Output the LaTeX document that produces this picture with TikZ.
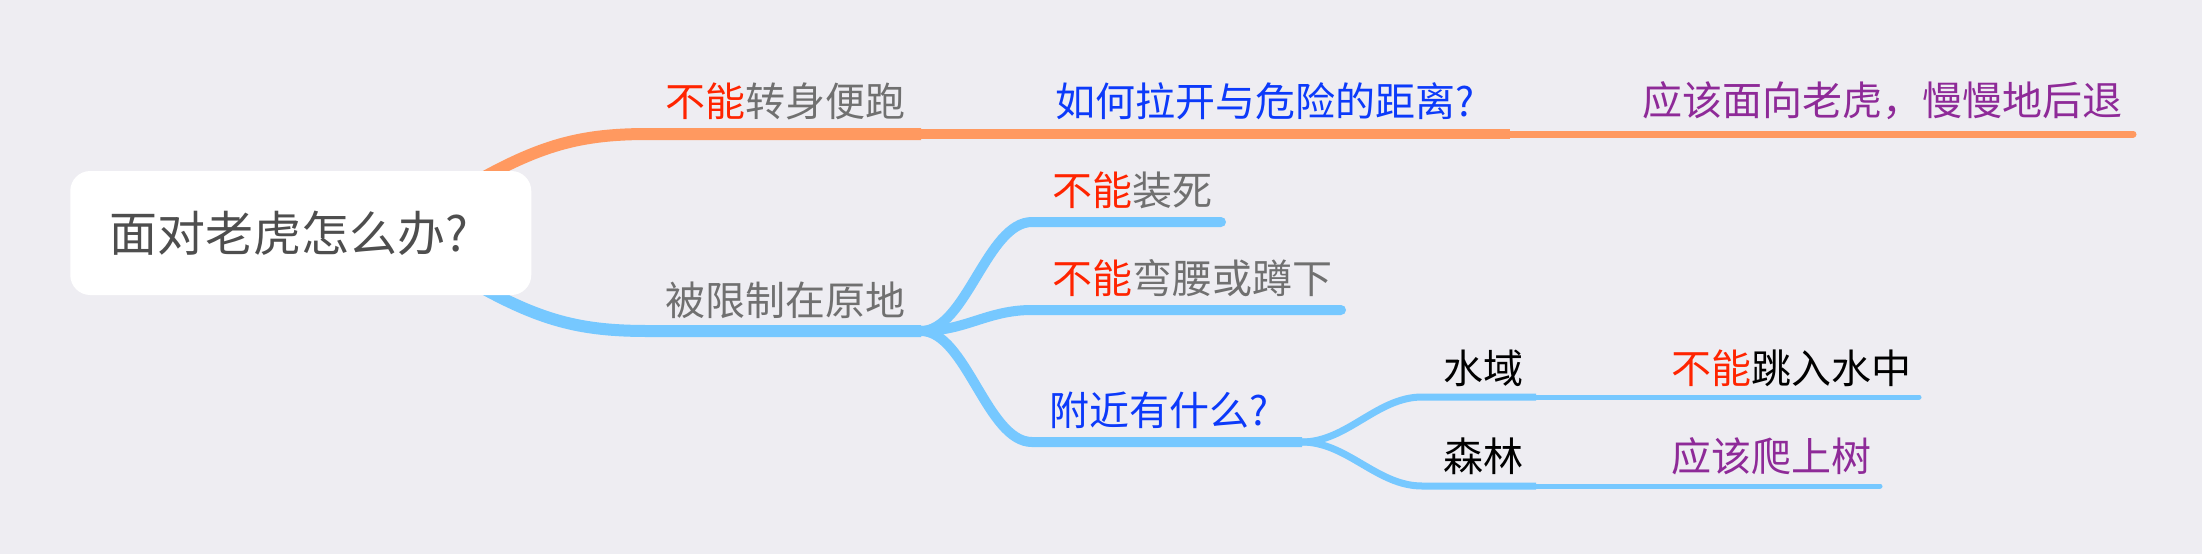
\documentclass[tikz,border=0pt]{standalone}
\usepackage{fontspec}
\setmainfont{Noto Sans CJK SC}
\usepackage{tikz}

\definecolor{bgcol}{RGB}{238,237,242}
\definecolor{orangeline}{RGB}{255,153,96}
\definecolor{blueline}{RGB}{118,200,255}
\definecolor{notred}{RGB}{255,36,0}
\definecolor{plaingray}{RGB}{112,112,112}
\definecolor{askblue}{RGB}{12,58,250}
\definecolor{dopurple}{RGB}{142,42,152}
\definecolor{rootgray}{RGB}{78,78,78}

\tikzset{
  lvlone/.style={line width=9pt},
  lvltwo/.style={line width=7.5pt},
  lvlthree/.style={line width=5.25pt},
  lvlfour/.style={line width=3.75pt},
  leafend/.style={line cap=round},
  topictext/.style={anchor=west, inner sep=0.75pt, font=\fontsize{30}{36}\selectfont},
  rootbox/.style={fill=white, rounded corners=15pt, anchor=west, inner xsep=29.25pt,
    minimum height=93pt, text width=287.25pt, align=left, text=rootgray,
    font=\fontsize{36}{43}\selectfont},
}
\newcommand{\buneng}{\textcolor{notred}{不能}}

\begin{document}
\begin{tikzpicture}[x=0.75pt,y=0.75pt,yscale=-1,xscale=1]
%Background
\fill [bgcol] (0,0) rectangle (2202,554);

%Junctions
\coordinate (rootO) at (470,185);
\coordinate (rootB) at (470,281);
\coordinate (runS) at (648,134);
\coordinate (runE) at (921,134);
\coordinate (howE) at (1510,134);
\coordinate (backE) at (2133,134);
\coordinate (stayS) at (648,331);
\coordinate (stayE) at (921,331);
\coordinate (deadS) at (1032,222);
\coordinate (deadE) at (1221,222);
\coordinate (bendS) at (1032,310);
\coordinate (bendE) at (1341,310);
\coordinate (nearS) at (1032,442);
\coordinate (nearE) at (1302,442);
\coordinate (waterS) at (1422,397);
\coordinate (waterE) at (1536,397);
\coordinate (jumpE) at (1919,397);
\coordinate (woodS) at (1422,486);
\coordinate (woodE) at (1536,486);
\coordinate (climbE) at (1880,486);

%Orange branch
\draw [orangeline, lvlone] (rootO) .. controls +(70,-40) and +(-68,0) .. (runS) -- (runE);
\draw [orangeline, lvltwo] (runE) -- (howE);
\draw [orangeline, lvlthree, leafend] (howE) -- (backE);

%Blue branch
\draw [blueline, lvlone] (rootB) .. controls +(70,40) and +(-68,0) .. (stayS) -- (stayE);
\draw [blueline, lvltwo, leafend] (stayE) .. controls +(45,0) and +(-45,0) .. (deadS) -- (deadE);
\draw [blueline, lvltwo, leafend] (stayE) .. controls +(45,0) and +(-45,0) .. (bendS) -- (bendE);
\draw [blueline, lvltwo] (stayE) .. controls +(45,0) and +(-45,0) .. (nearS) -- (nearE);
\draw [blueline, lvlthree] (nearE) .. controls +(45,0) and +(-45,0) .. (waterS) -- (waterE);
\draw [blueline, lvlfour, leafend] (waterE) -- (jumpE);
\draw [blueline, lvlthree] (nearE) .. controls +(45,0) and +(-45,0) .. (woodS) -- (woodE);
\draw [blueline, lvlfour, leafend] (woodE) -- (climbE);

%Root
\node [rootbox] (root) at (70,233) {面对老虎怎么办?};

% Text Node
\node [topictext, text=plaingray] (run) at (664,101) {\buneng 转身便跑};
\node [topictext, text=askblue] (how) at (1054,101) {如何拉开与危险的距离?};
\node [topictext, text=dopurple] (back) at (1641,101) {应该面向老虎，慢慢地后退};
% Text Node
\node [topictext, text=plaingray] (stay) at (664,300) {被限制在原地};
\node [topictext, text=plaingray] (dead) at (1051,190) {\buneng 装死};
\node [topictext, text=plaingray] (bend) at (1051,278) {\buneng 弯腰或蹲下};
\node [topictext, text=askblue] (near) at (1048,410) {附近有什么?};
% Text Node
\node [topictext, text=black] (water) at (1442,368) {水域};
\node [topictext, text=black] (jump) at (1670,368) {\buneng 跳入水中};
\node [topictext, text=black] (wood) at (1442,456) {森林};
\node [topictext, text=dopurple] (climb) at (1670,456) {应该爬上树};

\end{tikzpicture}
\end{document}
